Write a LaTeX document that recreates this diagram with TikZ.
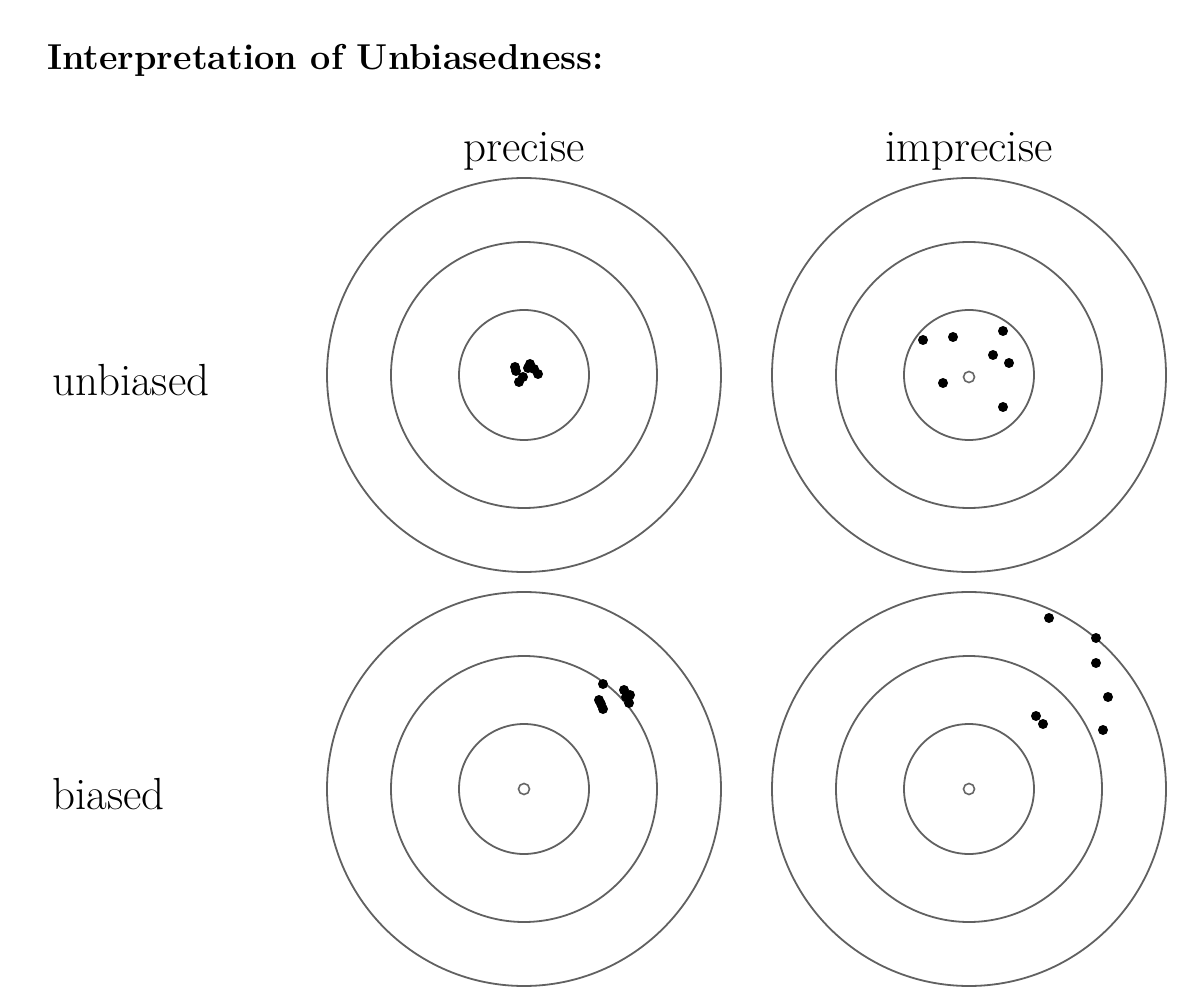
\documentclass[tikz,border=0pt]{standalone}
\usepackage{fontspec}
\begin{document}
\begin{tikzpicture}[x=1pt,y=-1pt,
  ring/.style={draw=black!62,line width=1.8pt},
  shot/.style={fill=black},
  hole/.style={draw=black!60,line width=1.6pt,fill=white},
  lbl/.style={font=\fontsize{45}{52}\selectfont,anchor=base,inner sep=0pt}]
\useasboundingbox[fill=white] (0,0) rectangle (1195,1000);
\node[font=\fontsize{36}{42}\selectfont\bfseries,anchor=base west,inner sep=0pt] (title) at (47,70) {Interpretation of Unbiasedness:};
\node[lbl] (prec) at (524,162) {precise};
\node[lbl] (imprec) at (969,162) {imprecise};
\node[lbl,anchor=base west] (unb) at (52,396) {unbiased};
\node[lbl,anchor=base west] (bia) at (52,809) {biased};
\foreach \cx/\cy in {524/375,969/375,524/789,969/789}{
  \draw[ring] (\cx,\cy) circle (197);
  \draw[ring] (\cx,\cy) circle (133);
  \draw[ring] (\cx,\cy) circle (65);
}
% top-left precise unbiased
\foreach \px/\py in {515/367,530/364,534/369,538/374,519/382,523/377,528/368,516/371}{
  \fill[shot] (\px,\py) circle (5);}
% top-right
\draw[hole] (969,377) circle (5.5);
\foreach \px/\py in {923/340,953/337,1003/331,993/355,1009/363,943/383,1003/407}{
  \fill[shot] (\px,\py) circle (5);}
% bottom-left
\draw[hole] (524,789) circle (5.5);
\foreach \px/\py in {603/684,599/700,603/709,601/704,624/690,630/695,629/703,626/697}{
  \fill[shot] (\px,\py) circle (5);}
% bottom-right
\draw[hole] (969,789) circle (5.5);
\foreach \px/\py in {1049/618,1096/638,1096/663,1108/697,1103/730,1036/716,1043/724}{
  \fill[shot] (\px,\py) circle (5);}
\end{tikzpicture}
\end{document}
